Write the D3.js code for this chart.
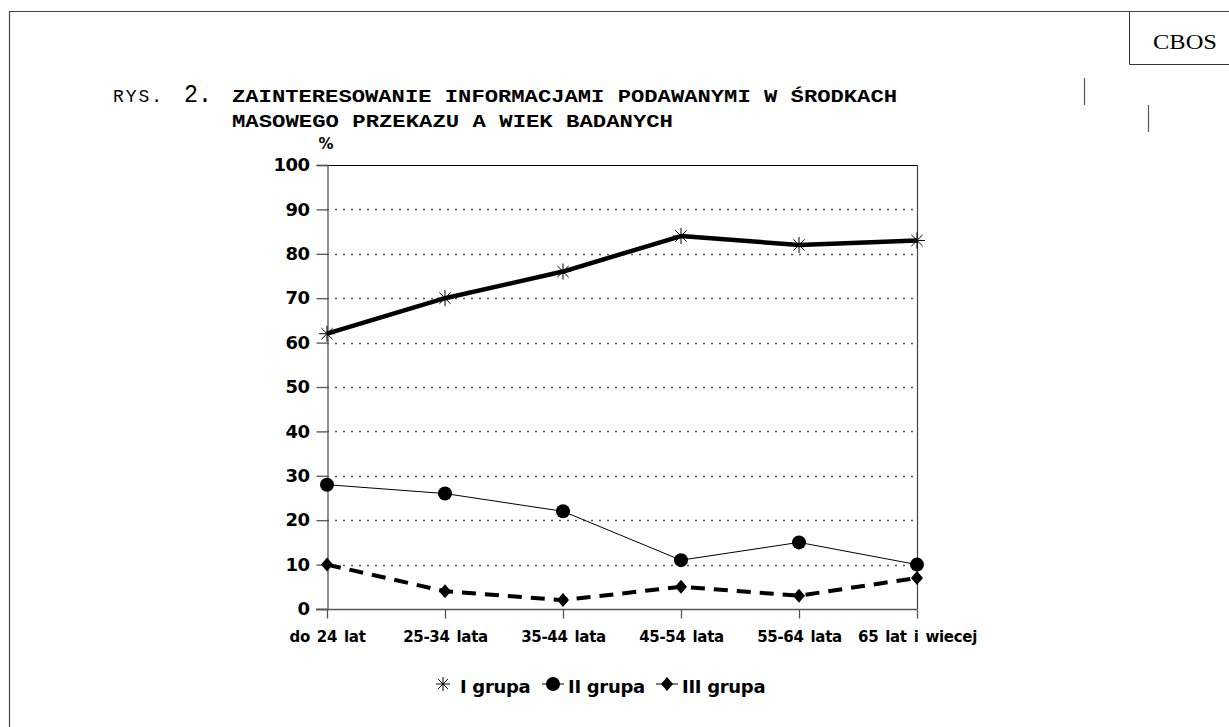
<!DOCTYPE html>
<html>
<head>
<meta charset="utf-8">
<title>rys2</title>
<script src="https://d3js.org/d3.v7.min.js"></script>
<style>
  body { margin: 0; background: #fff; }
  text { fill: #000; }
</style>
</head>
<body>
<script>
// data
var categories = ["do 24 lat", "25-34 lata", "35-44 lata", "45-54 lata", "55-64 lata", "65 lat i wiecej"];
var grupa1 = [62, 70, 76, 84, 82, 83];
var grupa2 = [28, 26, 22, 11, 15, 10];
var grupa3 = [10, 4, 2, 5, 3, 7];
var seriesNames = ["I grupa", "II grupa", "III grupa"];
var yTicks = [0, 10, 20, 30, 40, 50, 60, 70, 80, 90, 100];

var W = 1229, H = 727;
var plot = {left: 327, right: 917, top: 165, bottom: 609};
var sans = "'DejaVu Sans', Arial, sans-serif";
var mono = "'Liberation Mono', 'Courier New', monospace";
var serif = "'Liberation Serif', 'DejaVu Serif', serif";

var svg = d3.select("body").append("svg")
    .attr("width", W).attr("height", H);

// page frame
svg.append("path")
    .attr("d", "M9.5," + H + " L9.5,11.5 L" + W + ",11.5")
    .attr("fill", "none").attr("stroke", "#444").attr("stroke-width", 1.2);

// CBOS box
svg.append("path")
    .attr("d", "M1129.5,11.5 L1129.5,64.5 L" + W + ",64.5")
    .attr("fill", "none").attr("stroke", "#333").attr("stroke-width", 1);
svg.append("text").attr("x", 1153).attr("y", 49)
    .attr("font-family", serif).attr("font-size", 20)
    .attr("textLength", 64).attr("lengthAdjust", "spacingAndGlyphs")
    .text("CBOS");
// little marks on the right
svg.append("line").attr("x1", 1084.5).attr("x2", 1084.5).attr("y1", 78).attr("y2", 105)
    .attr("stroke", "#555").attr("stroke-width", 1.2);
svg.append("line").attr("x1", 1148.5).attr("x2", 1148.5).attr("y1", 105).attr("y2", 132)
    .attr("stroke", "#555").attr("stroke-width", 1.2);

// title
svg.append("text").attr("x", 113).attr("y", 102)
    .attr("font-family", mono).attr("font-size", 18)
    .attr("textLength", 49).attr("lengthAdjust", "spacing")
    .text("RYS.");
svg.append("text").attr("x", 184).attr("y", 102)
    .attr("font-family", mono).attr("font-size", 25)
    .attr("textLength", 28).attr("lengthAdjust", "spacingAndGlyphs")
    .text("2.");
svg.append("text").attr("x", 232).attr("y", 102)
    .attr("font-family", mono).attr("font-size", 18).attr("font-weight", "bold")
    .attr("textLength", 665).attr("lengthAdjust", "spacingAndGlyphs")
    .text("ZAINTERESOWANIE INFORMACJAMI PODAWANYMI W ŚRODKACH");
svg.append("text").attr("x", 232).attr("y", 127)
    .attr("font-family", mono).attr("font-size", 18).attr("font-weight", "bold")
    .attr("textLength", 441).attr("lengthAdjust", "spacingAndGlyphs")
    .text("MASOWEGO PRZEKAZU A WIEK BADANYCH");

// scales
var x = d3.scalePoint().domain(categories).range([plot.left, plot.right]).padding(0);
var y = d3.scaleLinear().domain([0, 100]).range([plot.bottom, plot.top]);

// dotted grid
svg.append("g").selectAll("line")
    .data(yTicks.filter(function(d){ return d > 0 && d < 100; }))
    .enter().append("line")
    .attr("x1", plot.left).attr("x2", plot.right)
    .attr("y1", function(d){ return Math.round(y(d)) + 0.5; })
    .attr("y2", function(d){ return Math.round(y(d)) + 0.5; })
    .attr("stroke", "#555").attr("stroke-width", 1.3)
    .attr("stroke-dasharray", "2,6");

// frame lines (top solid, right)
svg.append("line").attr("x1", plot.left).attr("x2", plot.right)
    .attr("y1", y(100) + 0.5).attr("y2", y(100) + 0.5)
    .attr("stroke", "#000").attr("stroke-width", 1.2);
svg.append("line").attr("x1", plot.right + 0.5).attr("x2", plot.right + 0.5)
    .attr("y1", y(100)).attr("y2", y(0))
    .attr("stroke", "#444").attr("stroke-width", 1.2);

// y axis
var yAxis = svg.append("g")
    .attr("transform", "translate(" + (plot.left + 0.5) + ",0)")
    .call(d3.axisLeft(y).tickValues(yTicks).tickSize(11).tickPadding(7));
yAxis.select(".domain").attr("stroke", "#555").attr("stroke-width", 1.3);
yAxis.selectAll(".tick line").attr("stroke", "#555").attr("stroke-width", 1.3);
yAxis.selectAll(".tick text")
    .attr("font-family", sans).attr("font-size", 18).attr("font-weight", "bold")
    .attr("letter-spacing", "-0.5px").attr("fill", "#000");

// x axis
var xAxis = svg.append("g")
    .attr("transform", "translate(0," + (plot.bottom + 0.5) + ")")
    .call(d3.axisBottom(x).tickSize(9).tickPadding(13));
xAxis.select(".domain").attr("d", "M" + (plot.left - 11) + ",0H" + plot.right)
    .attr("stroke", "#555").attr("stroke-width", 1.3);
xAxis.selectAll(".tick line").attr("stroke", "#555").attr("stroke-width", 1.3);
xAxis.selectAll(".tick text")
    .attr("font-family", sans).attr("font-size", 15).attr("font-weight", "bold")
    .attr("letter-spacing", "-0.3px").attr("word-spacing", "2px").attr("fill", "#000");

// % label
svg.append("text").attr("x", 326).attr("y", 149)
    .attr("text-anchor", "middle")
    .attr("font-family", sans).attr("font-size", 15).attr("font-weight", "bold")
    .text("%");

// series lines
function pts(vals){
    return vals.map(function(v, i){ return [x(categories[i]), y(v)]; });
}
var line = d3.line();

svg.append("path").attr("d", line(pts(grupa1)))
    .attr("fill", "none").attr("stroke", "#000").attr("stroke-width", 4.5)
    .attr("stroke-linejoin", "round");
svg.append("path").attr("d", line(pts(grupa2)))
    .attr("fill", "none").attr("stroke", "#000").attr("stroke-width", 1);
svg.append("path").attr("d", line(pts(grupa3)))
    .attr("fill", "none").attr("stroke", "#000").attr("stroke-width", 4)
    .attr("stroke-dasharray", "14,9");

// markers
function asterisk(g, r){
    var d = "";
    for (var k = 0; k < 4; k++){
        var a = k * Math.PI / 4;
        d += "M" + (-r * Math.cos(a)) + "," + (-r * Math.sin(a)) +
             "L" + (r * Math.cos(a)) + "," + (r * Math.sin(a));
    }
    g.append("path").attr("d", d).attr("stroke", "#000").attr("stroke-width", 1).attr("fill", "none");
}
function circleM(g){
    g.append("circle").attr("r", 7).attr("fill", "#000");
}
function diamondM(g){
    g.append("path").attr("d", "M0,-7L6,0L0,7L-6,0Z").attr("fill", "#000");
}

pts(grupa1).forEach(function(p){
    asterisk(svg.append("g").attr("transform", "translate(" + p + ")"), 8);
});
pts(grupa2).forEach(function(p){
    circleM(svg.append("g").attr("transform", "translate(" + p + ")"));
});
pts(grupa3).forEach(function(p){
    diamondM(svg.append("g").attr("transform", "translate(" + p + ")"));
});

// legend
var legendX = [443, 553, 667];
var markers = [function(g){ asterisk(g, 7); }, circleM, diamondM];
seriesNames.forEach(function(name, i){
    var g = svg.append("g").attr("transform", "translate(" + legendX[i] + ",684)");
    if (i > 0) {
        g.append("line").attr("x1", -11).attr("x2", 11)
            .attr("stroke", "#000").attr("stroke-width", 1);
    }
    markers[i](g);
    g.append("text").attr("x", i === 0 ? 17 : 15).attr("y", 9)
        .attr("font-family", sans).attr("font-size", 18).attr("font-weight", "bold")
        .attr("letter-spacing", "-0.3px")
        .text(name);
});
</script>
</body>
</html>
